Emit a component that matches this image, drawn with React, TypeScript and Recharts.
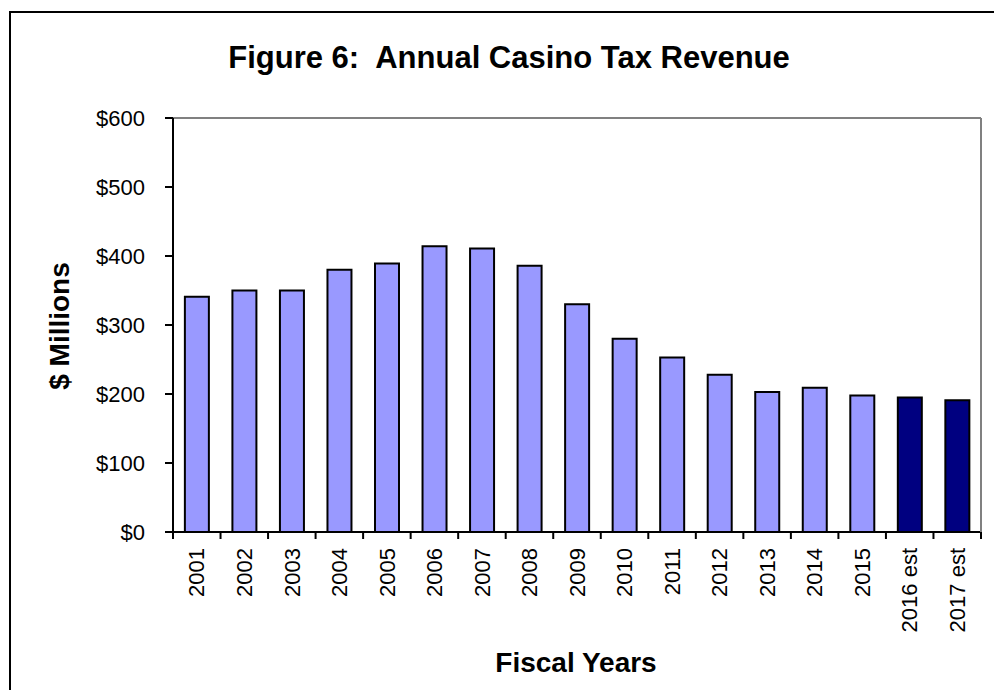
import React from "react";
import { BarChart, Bar, XAxis, YAxis, Cell, ReferenceLine } from "recharts";

const categories = ["2001","2002","2003","2004","2005","2006","2007","2008","2009","2010","2011","2012","2013","2014","2015","2016 est","2017 est"];
const revenue = [341, 350, 350, 380, 389, 414, 411, 386, 330, 280, 253, 228, 203, 209, 198, 195, 191];
const isEstimate = [false,false,false,false,false,false,false,false,false,false,false,false,false,false,false,true,true];
const yTicks = [0, 100, 200, 300, 400, 500, 600];

const data = categories.map((c, i) => ({ year: c, value: revenue[i], est: isEstimate[i] }));

const FONT = "'Liberation Sans', Arial, sans-serif";

const XTick = (props: any) => {
  const { x, y, payload, index, visibleTicksCount } = props;
  const half = payload && payload.offset ? payload.offset : 23.7;
  const count = visibleTicksCount ?? categories.length;
  return (
    <g>
      <line x1={x - half} y1={y - 16} x2={x - half} y2={y - 9} stroke="#000" strokeWidth={2} />
      {index === count - 1 ? (
        <line x1={x + half} y1={y - 16} x2={x + half} y2={y - 9} stroke="#000" strokeWidth={2} />
      ) : null}
      <text
        x={x}
        y={y}
        transform={`rotate(-90 ${x} ${y})`}
        textAnchor="end"
        dy="0.35em"
        fontSize={22}
        fontFamily={FONT}
        fill="#000"
      >
        {payload.value}
      </text>
    </g>
  );
};

export default function App() {
  return (
    <div style={{ position: "absolute", left: 0, top: 0, width: 994, height: 690, overflow: "hidden", background: "#fff" }}>
      <div
        style={{
          position: "absolute",
          left: 9,
          top: 11,
          width: 1200,
          height: 900,
          borderTop: "2px solid #000",
          borderLeft: "2px solid #000",
        }}
      />
      <div style={{ position: "absolute", left: 0, top: 0 }}>
        <BarChart
          width={994}
          height={690}
          data={data}
          margin={{ top: 118, right: 0, left: 0, bottom: 0 }}
          barCategoryGap="25%"
        >
          <XAxis
            dataKey="year"
            height={158}
            tickLine={false}
            tickSize={6}
            tickMargin={10}
            interval={0}
            axisLine={{ stroke: "#000", strokeWidth: 2 }}
            tick={<XTick />}
          />
          <YAxis
            yAxisId="left"
            width={173}
            domain={[0, 600]}
            ticks={yTicks}
            interval={0}
            tickSize={8}
            tickMargin={20}
            tickFormatter={(v: number) => `$${v}`}
            axisLine={{ stroke: "#000", strokeWidth: 2 }}
            tickLine={{ stroke: "#000", strokeWidth: 2 }}
            tick={{ fontSize: 22, fill: "#000", fontFamily: FONT }}
          />
          <YAxis
            yAxisId="right"
            orientation="right"
            width={13}
            domain={[0, 600]}
            tick={false}
            tickLine={false}
            axisLine={{ stroke: "#808080", strokeWidth: 2 }}
          />
          <ReferenceLine yAxisId="left" y={600} stroke="#808080" strokeWidth={2} ifOverflow="extendDomain" />
          <Bar yAxisId="left" dataKey="value" isAnimationActive={false} stroke="#000" strokeWidth={2}>
            {data.map((d, i) => (
              <Cell key={i} fill={d.est ? "#000080" : "#9999FF"} />
            ))}
          </Bar>
        </BarChart>
      </div>
      <svg
        width={994}
        height={690}
        style={{ position: "absolute", left: 0, top: 0, pointerEvents: "none" }}
      >
        <text x={509} y={68} textAnchor="middle" fontSize={31} fontWeight="bold" fontFamily={FONT} fill="#000" style={{ whiteSpace: "pre" }}>
          {"Figure 6:  Annual Casino Tax Revenue"}
        </text>
        <text
          x={59}
          y={326}
          transform="rotate(-90 59 326)"
          textAnchor="middle"
          dy="0.35em"
          fontSize={28}
          fontWeight="bold"
          fontFamily={FONT}
          fill="#000"
        >
          $ Millions
        </text>
        <text x={576} y={672} textAnchor="middle" fontSize={28} fontWeight="bold" fontFamily={FONT} fill="#000">
          Fiscal Years
        </text>
      </svg>
    </div>
  );
}
